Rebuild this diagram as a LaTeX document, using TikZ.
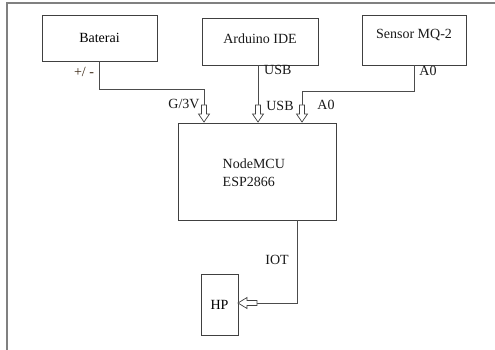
\documentclass[tikz,border=0pt]{standalone}
\usepackage{fontspec}
\setmainfont{Liberation Serif}
\begin{document}
\begin{tikzpicture}[x=1pt,y=-1pt,
  box/.style={draw=black!75, line width=0.8pt, rectangle, inner sep=0pt, font=\fontsize{14}{18}\selectfont},
  wire/.style={draw=black!70, line width=0.8pt},
  lbl/.style={inner sep=0pt, font=\fontsize{14}{18}\selectfont, text=black!90},
  downarrow/.pic={\draw[black!75, line width=0.7pt, fill=white] (-2.5,0) -- (-2.5,9) -- (-5.5,9) -- (0,17) -- (5.5,9) -- (2.5,9) -- (2.5,0) -- cycle;},
  leftarrow/.pic={\draw[black!75, line width=0.7pt, fill=white] (0,-2.5) -- (-10,-2.5) -- (-10,-5.5) -- (-19,0) -- (-10,5.5) -- (-10,2.5) -- (0,2.5) -- cycle;}
]
\useasboundingbox (0,0) rectangle (495,350);
% frame
\draw[black!50, line width=2pt] (7,350) -- (7,3) -- (495,3);

% boxes
\node[box, minimum width=115pt, minimum height=46pt] (bat) at (99.5,38) {Baterai};
\node[box, minimum width=116pt, minimum height=47pt] (ide) at (260,41.5) {};
\node[lbl] (idetext) at (260,39) {Arduino IDE};
\node[box, minimum width=104pt, minimum height=50pt] (mq) at (414,40) {};
\node[lbl] (mqtext) at (414,35) {Sensor MQ-2};
\node[box, minimum width=158pt, minimum height=97pt] (mcu) at (257,171.5) {};
\node[lbl, anchor=west, align=left] (mcutext) at (222.5,173) {NodeMCU\\ESP2866};
\node[box, minimum width=37pt, minimum height=61pt] (hp) at (219.5,304.5) {HP};

% coordinates for arrow tails
\coordinate (a1) at (204,105);
\coordinate (a2) at (258,105);
\coordinate (a3) at (302,105);
\coordinate (a4) at (257,303);

% wires
\draw[wire] (bat.south) -- (bat.south |- 0,89) -| (a1);
\draw[wire] (ide.south -| a2) -- (a2);
\draw[wire] (mq.south) -- (mq.south |- 0,91) -| (a3);
\draw[wire] (mcu.south -| 297,0) |- (a4);

% block arrows
\pic at (a1) {downarrow};
\pic at (a2) {downarrow};
\pic at (a3) {downarrow};
\pic at (a4) {leftarrow};

% labels
\node[lbl, text=black!70!brown] at (84,72) {+/ -};
\node[lbl, anchor=west] at (264,70) {USB};
\node[lbl] at (428,71) {A0};
\node[lbl] at (184,104) {G/3V};
\node[lbl] at (280,106) {USB};
\node[lbl] at (326,105) {A0};
\node[lbl] at (277,260) {IOT};
\end{tikzpicture}
\end{document}
